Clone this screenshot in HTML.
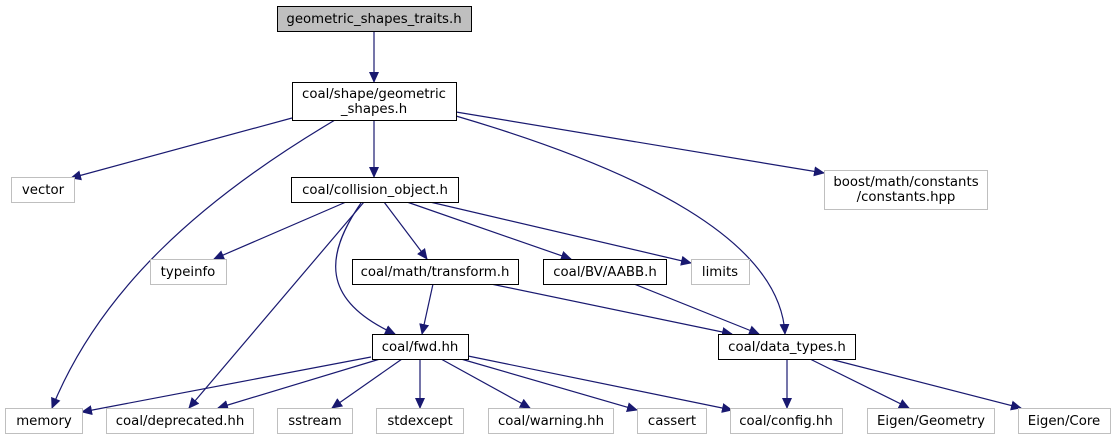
<!DOCTYPE html>
<html><head><meta charset="utf-8"><style>
html,body{margin:0;padding:0;background:#fff;width:1115px;height:440px;overflow:hidden}
svg text{font-family:"DejaVu Sans","Liberation Sans",sans-serif;font-size:13.3px;fill:#000;text-anchor:middle}
</style></head><body>
<svg width="1115" height="440" viewBox="0 0 1115 440" xmlns="http://www.w3.org/2000/svg">
<defs><marker id="a" markerUnits="userSpaceOnUse" markerWidth="11" markerHeight="10" refX="10" refY="5" orient="auto"><path d="M0,0 L11,5 L0,10 z" fill="#191970"/></marker></defs>
<g fill="none" stroke="#191970" stroke-width="1.2" marker-end="url(#a)">
<path d="M374,31 L374,82"/>
<path d="M292,118 L71,178"/>
<path d="M335,120 C200,200 100,290 52,408"/>
<path d="M374,120 L374,177"/>
<path d="M456,112 L824,173"/>
<path d="M456,116 C640,170 780,240 785,334"/>
<path d="M346,202 L214,259"/>
<path d="M364,202 L189,408"/>
<path d="M361,203 C325,255 320,300 395,334"/>
<path d="M384,202 L427,259"/>
<path d="M407,202 L571,259"/>
<path d="M430,202 L691,263"/>
<path d="M433,284 L422,334"/>
<path d="M491,284 L732,334"/>
<path d="M634,284 L759,334"/>
<path d="M371,357 L82,412"/>
<path d="M380,359 L218,408"/>
<path d="M402,359 L332,408"/>
<path d="M420,359 L420,408"/>
<path d="M441,359 L530,408"/>
<path d="M461,359 L637,410"/>
<path d="M468,356 L732,410"/>
<path d="M787,359 L787,408"/>
<path d="M810,359 L909,408"/>
<path d="M830,359 L1021,408"/>
</g>
<g stroke-width="1">
<rect x="277.5" y="6.5" width="194" height="25" fill="#bfbfbf" stroke="#000"/>
<rect x="292.5" y="82.5" width="164" height="38" fill="#fff" stroke="#000"/>
<rect x="11.5" y="177.5" width="63" height="25" fill="#fff" stroke="#bfbfbf"/>
<rect x="291.5" y="177.5" width="167" height="25" fill="#fff" stroke="#000"/>
<rect x="824.5" y="170.5" width="163" height="39" fill="#fff" stroke="#bfbfbf"/>
<rect x="150.5" y="259.5" width="76" height="25" fill="#fff" stroke="#bfbfbf"/>
<rect x="352.5" y="259.5" width="166" height="25" fill="#fff" stroke="#000"/>
<rect x="543.5" y="259.5" width="123" height="25" fill="#fff" stroke="#000"/>
<rect x="691.5" y="259.5" width="58" height="25" fill="#fff" stroke="#bfbfbf"/>
<rect x="372.5" y="334.5" width="96" height="25" fill="#fff" stroke="#000"/>
<rect x="718.5" y="334.5" width="137" height="25" fill="#fff" stroke="#000"/>
<g fill="#fff" stroke="#bfbfbf">
<rect x="5.5" y="408.5" width="77" height="25"/>
<rect x="106.5" y="408.5" width="147" height="25"/>
<rect x="277.5" y="408.5" width="75" height="25"/>
<rect x="376.5" y="408.5" width="87" height="25"/>
<rect x="488.5" y="408.5" width="125" height="25"/>
<rect x="637.5" y="408.5" width="69" height="25"/>
<rect x="730.5" y="408.5" width="112" height="25"/>
<rect x="867.5" y="408.5" width="127" height="25"/>
<rect x="1018.5" y="408.5" width="92" height="25"/>
</g>
</g>
<text x="374" y="23">geometric_shapes_traits.h</text>
<text x="374" y="98">coal/shape/geometric</text>
<text x="374" y="113">_shapes.h</text>
<text x="43" y="194">vector</text>
<text x="375" y="194">coal/collision_object.h</text>
<text x="906" y="186">boost/math/constants</text>
<text x="906" y="201">/constants.hpp</text>
<text x="188" y="276">typeinfo</text>
<text x="435" y="276">coal/math/transform.h</text>
<text x="605" y="276">coal/BV/AABB.h</text>
<text x="720" y="276">limits</text>
<text x="420" y="351">coal/fwd.hh</text>
<text x="787" y="351">coal/data_types.h</text>
<text x="44" y="425">memory</text>
<text x="180" y="425">coal/deprecated.hh</text>
<text x="315" y="425">sstream</text>
<text x="420" y="425">stdexcept</text>
<text x="551" y="425">coal/warning.hh</text>
<text x="672" y="425">cassert</text>
<text x="786" y="425">coal/config.hh</text>
<text x="931" y="425">Eigen/Geometry</text>
<text x="1064" y="425">Eigen/Core</text>
</svg>
</body></html>
